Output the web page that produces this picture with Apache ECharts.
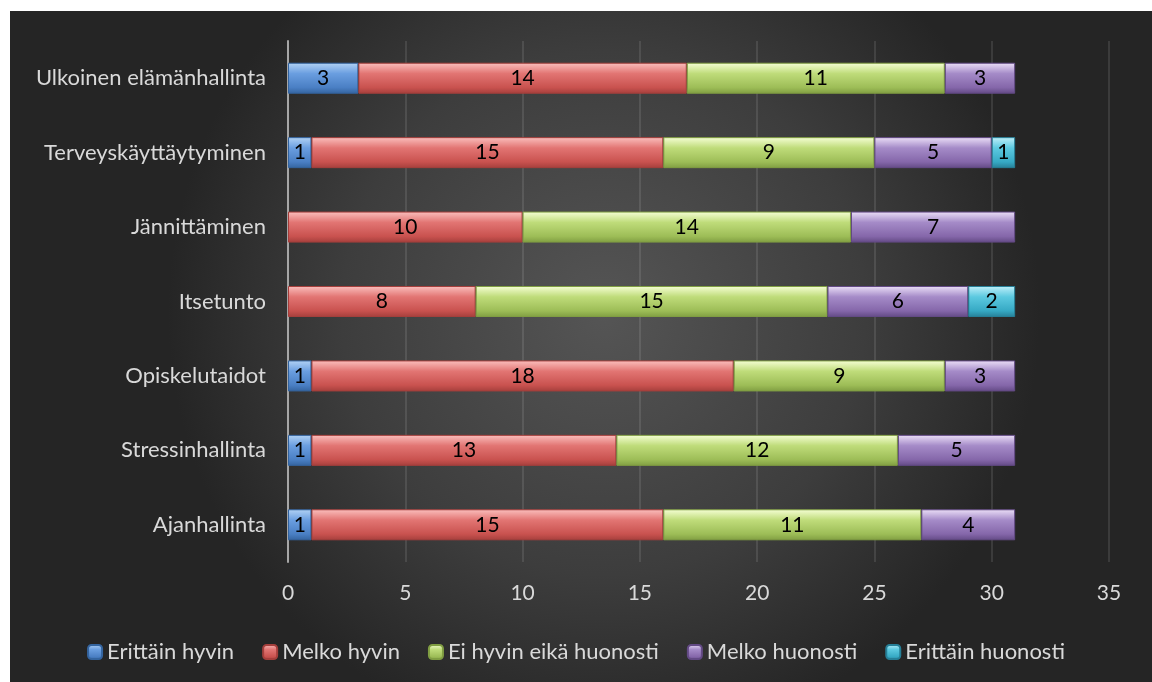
<!DOCTYPE html>
<html>
<head>
<meta charset="utf-8">
<script src="https://cdn.jsdelivr.net/npm/echarts@6/dist/echarts.min.js"></script>
<style>
html,body{margin:0;padding:0;background:#fff;}
#c{width:1152px;height:682px;}
</style>
</head>
<body>
<div id="c"></div>
<script>
const categories = ['Ajanhallinta','Stressinhallinta','Opiskelutaidot','Itsetunto','Jännittäminen','Terveyskäyttäytyminen','Ulkoinen elämänhallinta'];
const seriesNames = ['Erittäin hyvin','Melko hyvin','Ei hyvin eikä huonosti','Melko huonosti','Erittäin huonosti'];
const erittainHyvin = [1,1,1,0,0,1,3];
const melkoHyvin = [15,13,18,8,10,15,14];
const eiHyvinEikaHuonosti = [11,12,9,15,14,9,11];
const melkoHuonosti = [4,5,3,6,7,5,3];
const erittainHuonosti = [0,0,0,2,0,1,0];
const xTicks = [0,5,10,15,20,25,30,35];

const values = [erittainHyvin, melkoHyvin, eiHyvinEikaHuonosti, melkoHuonosti, erittainHuonosti];
const palettes = [
  ['#b3d3f5','#6a9ee0','#4a7fc4','#34649f'],
  ['#fbc0be','#e27573','#c9524f','#a53f3c'],
  ['#f6ffd6','#bfdc7a','#9dbd57','#809e42'],
  ['#ece0f8','#a58bc8','#8567aa','#634a85'],
  ['#c0f0fa','#5cc9e0','#36a9c4','#267f97']
];
function grad(p){
  return new echarts.graphic.LinearGradient(0,0,0,1,[
    {offset:0,color:p[0]},{offset:0.35,color:p[1]},{offset:0.8,color:p[2]},{offset:1,color:p[3]}
  ]);
}
const chart = echarts.init(document.getElementById('c'));
const font = 'Lato, "Open Sans", sans-serif';
chart.setOption({
  animation:false,
  graphic:[{
    type:'rect', left:10, top:11, z:-10,
    shape:{width:1142, height:671},
    style:{fill:new echarts.graphic.RadialGradient(0.52,0.45,0.65,[
      {offset:0,color:'#555555'},{offset:0.6,color:'#3d3d3d'},{offset:1,color:'#252525'}])}
  }],
  grid:{left:288,right:43,top:41,bottom:120,containLabel:false},
  legend:{
    top:636, left:'center',
    itemWidth:14, itemHeight:14, itemGap:28,
    textStyle:{color:'#d9d9d9',fontSize:22,fontFamily:font},
    data:seriesNames
  },
  xAxis:{
    type:'value', min:0, max:35, interval:5,
    axisLine:{show:false}, axisTick:{show:false},
    splitLine:{lineStyle:{color:'rgba(255,255,255,0.1)',width:2}},
    axisLabel:{color:'#d9d9d9',fontSize:21,fontFamily:font,margin:21}
  },
  yAxis:{
    type:'category', data:categories,
    axisLine:{lineStyle:{color:'#a6a6a6',width:2}},
    axisTick:{show:false},
    axisLabel:{color:'#d9d9d9',fontSize:22,fontFamily:font,margin:22}
  },
  series: values.map((v,i)=>({
    name:seriesNames[i], type:'bar', stack:'total', barWidth:31,
    data:v.map(x=>x===0?null:x),
    itemStyle:{color:grad(palettes[i]), borderColor:palettes[i][3], borderWidth:1},
    label:{show:true, position:'inside', color:'#000', fontSize:21, fontFamily:font,
      formatter:p=>p.value?String(p.value):''}
  }))
});
</script>
</body>
</html>
